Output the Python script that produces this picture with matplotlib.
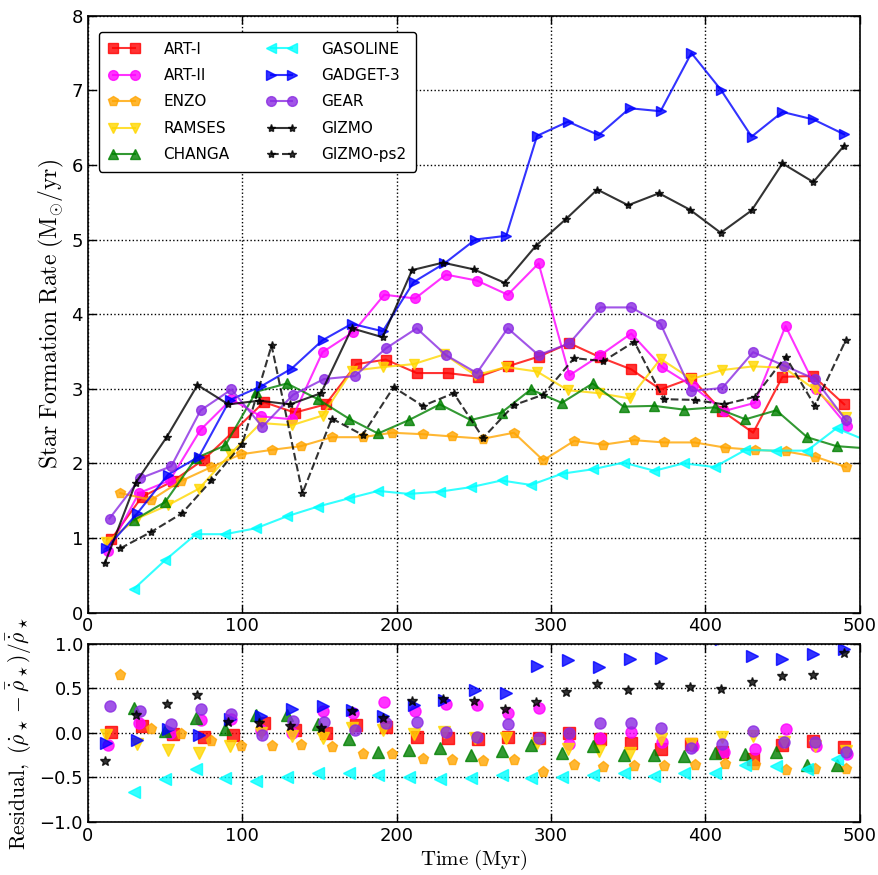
import numpy as np
import matplotlib
matplotlib.use('Agg')
import matplotlib.pyplot as plt

plt.rcParams['mathtext.fontset'] = 'cm'
plt.rcParams['xtick.direction'] = 'in'
plt.rcParams['ytick.direction'] = 'in'
plt.rcParams['xtick.top'] = True
plt.rcParams['ytick.right'] = True

codes = ['ART-I', 'ART-II', 'ENZO', 'RAMSES', 'CHANGA',
         'GASOLINE', 'GADGET-3', 'GEAR', 'GIZMO', 'GIZMO-ps2']
colors = ['red', 'magenta', 'orange', '#ffd700', 'green',
          'cyan', 'blue', 'blueviolet', 'black', 'black']
markers = ['s', 'o', 'p', 'v', '^', '<', '>', 'o', '*', '*']
styles = ['-'] * 9 + ['--']

# snapshot times (Myr) of each code
t_art1 = [15, 35, 55, 75, 94, 114, 134, 154, 174, 193, 213, 233, 253, 272, 292, 312, 332, 352, 371, 391, 411, 431, 450, 470, 490]
t_art2 = [13, 33, 53, 73, 93, 112, 132, 152, 172, 192, 212, 232, 252, 272, 292, 312, 332, 352, 372, 392, 412, 432, 452, 472, 492]
t_enzo = [21, 41, 60, 80, 99, 119, 138, 158, 178, 197, 217, 236, 256, 276, 295, 315, 334, 354, 373, 393, 413, 432, 452, 471, 491]
t_ramses = [12, 32, 52, 72, 92, 112, 132, 152, 171, 191, 211, 231, 251, 271, 291, 311, 331, 351, 371, 391, 411, 431, 451, 471, 491]
t_changa = [30, 50, 70, 89, 109, 129, 149, 169, 188, 208, 228, 248, 268, 287, 307, 327, 347, 367, 386, 406, 426, 446, 466, 485, 505]
t_gasoline = [30, 50, 70, 89, 109, 129, 149, 169, 188, 208, 228, 248, 268, 287, 307, 327, 347, 367, 386, 406, 426, 446, 466, 485, 505]
t_gadget = [12, 32, 52, 72, 92, 112, 132, 152, 171, 191, 211, 231, 251, 271, 291, 311, 331, 351, 371, 391, 410, 430, 450, 470, 490]
t_gear = [14, 34, 54, 73, 93, 113, 133, 153, 173, 193, 213, 232, 252, 272, 292, 312, 332, 352, 371, 391, 411, 431, 451, 471, 491]
t_gizmo = [11, 31, 51, 71, 91, 111, 131, 151, 171, 191, 210, 230, 250, 270, 290, 310, 330, 350, 370, 390, 410, 430, 450, 470, 490]
t_ps2 = [21, 41, 61, 80, 100, 119, 139, 158, 178, 198, 217, 237, 256, 276, 295, 315, 334, 354, 373, 393, 412, 432, 452, 471, 491]

# star formation rate (Msun/yr)
sfr_art1 = [0.98, 1.55, 1.76, 2.05, 2.42, 2.82, 2.68, 2.79, 3.33, 3.39, 3.21, 3.21, 3.16, 3.30, 3.43, 3.61, 3.42, 3.26, 2.99, 3.14, 2.70, 2.41, 3.16, 3.17, 2.79]
sfr_art2 = [0.83, 1.60, 1.77, 2.45, 2.86, 2.63, 2.59, 3.49, 3.76, 4.26, 4.21, 4.53, 4.45, 4.26, 4.68, 3.18, 3.45, 3.74, 3.29, 3.03, 2.70, 2.81, 3.84, 3.00, 2.50]
sfr_enzo = [1.60, 1.51, 1.76, 1.95, 2.12, 2.18, 2.23, 2.35, 2.35, 2.41, 2.39, 2.36, 2.33, 2.41, 2.04, 2.30, 2.25, 2.31, 2.28, 2.28, 2.21, 2.18, 2.16, 2.09, 1.95]
sfr_ramses = [0.94, 1.26, 1.44, 1.66, 2.12, 2.54, 2.51, 2.64, 3.24, 3.29, 3.33, 3.46, 3.18, 3.29, 3.23, 2.98, 2.94, 2.87, 3.40, 3.13, 3.25, 3.30, 3.28, 2.99, 2.62]
sfr_changa = [1.24, 1.48, 2.07, 2.24, 2.96, 3.07, 2.86, 2.60, 2.40, 2.58, 2.79, 2.58, 2.68, 2.99, 2.81, 3.07, 2.76, 2.77, 2.72, 2.75, 2.59, 2.71, 2.35, 2.23, 2.20]
sfr_gasoline = [0.32, 0.70, 1.05, 1.05, 1.13, 1.29, 1.42, 1.53, 1.63, 1.59, 1.62, 1.68, 1.77, 1.71, 1.86, 1.92, 2.01, 1.90, 2.00, 1.95, 2.18, 2.17, 2.17, 2.47, 2.30]
sfr_gadget = [0.86, 1.33, 1.85, 2.09, 2.85, 3.03, 3.27, 3.65, 3.87, 3.77, 4.43, 4.68, 5.00, 5.05, 6.39, 6.58, 6.40, 6.76, 6.72, 7.50, 7.01, 6.38, 6.71, 6.61, 6.41]
sfr_gear = [1.26, 1.80, 1.96, 2.71, 2.99, 2.49, 2.92, 3.13, 3.17, 3.54, 3.81, 3.45, 3.21, 3.81, 3.45, 3.61, 4.09, 4.09, 3.87, 2.97, 3.01, 3.49, 3.31, 3.13, 2.58]
sfr_gizmo = [0.66, 1.74, 2.35, 3.05, 2.79, 2.84, 2.79, 2.94, 3.81, 3.69, 4.59, 4.69, 4.60, 4.42, 4.91, 5.28, 5.67, 5.46, 5.62, 5.40, 5.09, 5.39, 6.02, 5.77, 6.26]
sfr_ps2 = [0.86, 1.08, 1.33, 1.77, 2.26, 3.58, 1.60, 2.60, 2.38, 3.02, 2.77, 2.94, 2.34, 2.78, 2.92, 3.41, 3.37, 3.63, 2.86, 2.85, 2.79, 2.89, 3.43, 2.77, 3.65]

times = [t_art1, t_art2, t_enzo, t_ramses, t_changa, t_gasoline, t_gadget, t_gear, t_gizmo, t_ps2]
sfrs = [sfr_art1, sfr_art2, sfr_enzo, sfr_ramses, sfr_changa, sfr_gasoline, sfr_gadget, sfr_gear, sfr_gizmo, sfr_ps2]

fig = plt.figure(figsize=(8.79, 8.75), dpi=100)
ax1 = fig.add_axes([0.100, 0.300, 0.878, 0.682])
ax2 = fig.add_axes([0.100, 0.0606, 0.878, 0.2034])

for i in range(len(codes)):
    ms = 6 if markers[i] == '*' else 7
    ax1.plot(times[i], sfrs[i], linestyle=styles[i], color=colors[i], marker=markers[i],
             ms=ms, mec=colors[i], lw=1.5, alpha=0.8, label=codes[i])

ax1.set_xlim(0, 500)
ax1.set_ylim(0, 8)
ax1.set_ylabel(r'$\mathrm{Star\ Formation\ Rate\ (M_{\odot}/yr)}$', fontsize=17)
ax1.grid(True, linestyle=':', color='k', lw=1)
leg = ax1.legend(loc='upper left', ncol=2, numpoints=2, fontsize=11, fancybox=True,
                 handlelength=2.0, handletextpad=1.6, columnspacing=2.4, labelspacing=0.75,
                 borderpad=0.6, bbox_to_anchor=(0.005, 0.985))
leg.get_frame().set_edgecolor('black')
leg.get_frame().set_alpha(1)

# residual with respect to the mean of the codes (GIZMO-ps2 not included)
arr = np.array(sfrs[:9])
mean_sfr = arr.mean(axis=0)
for i in range(9):
    resid = arr[i] / mean_sfr - 1.0
    ms = 7 if markers[i] == '*' else 8
    ax2.plot(times[i], resid, linestyle='none', color=colors[i], marker=markers[i],
             ms=ms, mec=colors[i], alpha=0.8)

ax2.set_xlim(0, 500)
ax2.set_ylim(-1, 1)
ax2.set_yticks([-1.0, -0.5, 0.0, 0.5, 1.0])
ax2.set_xlabel(r'$\mathrm{Time\ (Myr)}$', fontsize=15, labelpad=2)
ax2.set_ylabel(r'$\mathrm{Residual,}\ (\dot{\rho}_\star - \bar{\dot{\rho}}_\star)/\bar{\dot{\rho}}_\star$', fontsize=15.5)
ax2.grid(True, linestyle=':', color='k', lw=1)

for ax in (ax1, ax2):
    ax.set_xticks([0, 100, 200, 300, 400, 500])
    ax.tick_params(labelsize=13, length=6, width=1)
    for s in ax.spines.values():
        s.set_linewidth(1.2)

fig.savefig('out.png', dpi=100)
